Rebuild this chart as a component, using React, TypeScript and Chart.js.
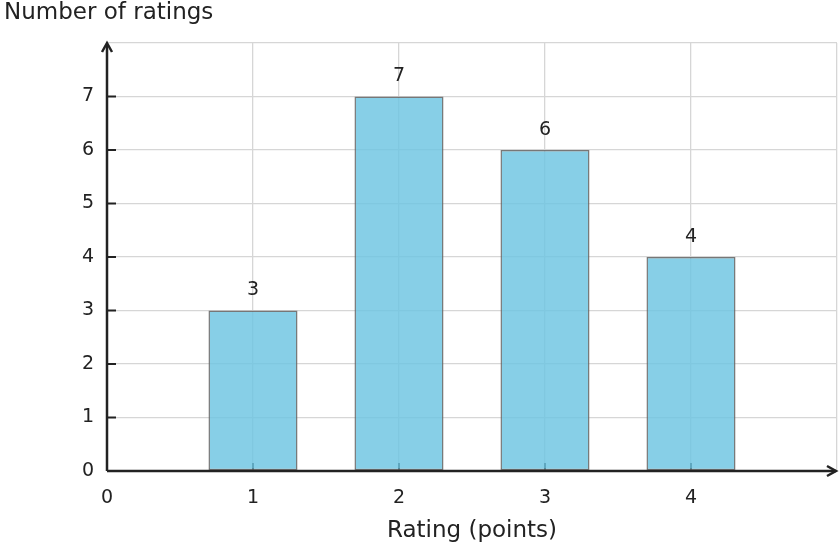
import React, { useEffect, useRef } from 'react';
import { Chart, registerables } from 'chart.js';

Chart.register(...registerables);

// rating (points) and how many ratings got that score
const ratings = [1, 2, 3, 4];
const counts = [3, 7, 6, 4];

const xMax = 5;
const yMax = 8;
const xTickLabels = ['0', '1', '2', '3', '4'];
const yTickLabels = ['0', '1', '2', '3', '4', '5', '6', '7'];

const FONT = '"DejaVu Sans", sans-serif';
const INK = '#222222';

const axesPlugin = {
  id: 'axesPlugin',
  beforeDatasetsDraw(chart: any) {
    const { ctx, chartArea, scales } = chart;
    // short x tick marks, sit under the bars
    ctx.save();
    ctx.strokeStyle = INK;
    ctx.lineWidth = 2;
    scales.x.ticks.forEach((t: any) => {
      if (t.value <= 0 || t.value >= xMax) return;
      const x = scales.x.getPixelForValue(t.value);
      ctx.beginPath();
      ctx.moveTo(x, chartArea.bottom);
      ctx.lineTo(x, chartArea.bottom - 8);
      ctx.stroke();
    });
    ctx.restore();
  },
  afterDatasetsDraw(chart: any) {
    const { ctx, chartArea, scales } = chart;
    const { left, right, top, bottom } = chartArea;
    ctx.save();

    // value labels above bars
    ctx.fillStyle = INK;
    ctx.font = `19px ${FONT}`;
    ctx.textAlign = 'center';
    ctx.textBaseline = 'middle';
    chart.getDatasetMeta(0).data.forEach((bar: any, i: number) => {
      ctx.fillText(String(counts[i]), bar.x, bar.y - 20);
    });

    // y tick marks
    ctx.strokeStyle = INK;
    ctx.lineWidth = 2;
    scales.y.ticks.forEach((t: any) => {
      if (t.value <= 0 || t.value >= yMax) return;
      const y = scales.y.getPixelForValue(t.value);
      ctx.beginPath();
      ctx.moveTo(left, y);
      ctx.lineTo(left + 9, y);
      ctx.stroke();
    });

    // axis lines with arrows
    ctx.lineWidth = 2.5;
    ctx.lineCap = 'butt';
    ctx.beginPath();
    ctx.moveTo(left, bottom);
    ctx.lineTo(left, top + 1);
    ctx.moveTo(left, bottom);
    ctx.lineTo(right - 1, bottom);
    ctx.stroke();
    ctx.lineJoin = 'miter';
    ctx.beginPath();
    ctx.moveTo(left - 5, top + 9);
    ctx.lineTo(left, top);
    ctx.lineTo(left + 5, top + 9);
    ctx.moveTo(right - 10, bottom - 5);
    ctx.lineTo(right - 1, bottom);
    ctx.lineTo(right - 10, bottom + 5);
    ctx.stroke();

    // tick labels
    ctx.font = `19px ${FONT}`;
    ctx.textAlign = 'right';
    ctx.textBaseline = 'middle';
    yTickLabels.forEach((lab, i) => {
      ctx.fillText(lab, left - 13, scales.y.getPixelForValue(i));
    });
    ctx.textAlign = 'center';
    xTickLabels.forEach((lab, i) => {
      ctx.fillText(lab, scales.x.getPixelForValue(i), bottom + 27);
    });

    // axis titles
    ctx.font = `23px ${FONT}`;
    ctx.textAlign = 'left';
    ctx.fillText('Number of ratings', 4, 13);
    ctx.textAlign = 'center';
    ctx.fillText('Rating (points)', (left + right) / 2, bottom + 60);

    ctx.restore();
  },
};

const App: React.FC = () => {
  const canvasRef = useRef<HTMLCanvasElement | null>(null);

  useEffect(() => {
    document.body.style.margin = '0';
    if (!canvasRef.current) return;

    const chart = new Chart(canvasRef.current, {
      type: 'bar',
      data: {
        datasets: [{
          data: ratings.map((r, i) => ({ x: r, y: counts[i] })),
          backgroundColor: 'rgba(108, 196, 226, 0.82)',
          borderColor: 'rgba(105, 105, 105, 0.9)',
          borderWidth: 1.5,
          borderSkipped: false,
          categoryPercentage: 1,
          barPercentage: 0.61,
        }],
      },
      options: {
        animation: false,
        responsive: false,
        devicePixelRatio: 1,
        layout: { padding: { left: 107, right: 3, top: 43, bottom: 77 } },
        plugins: {
          legend: { display: false },
          tooltip: { enabled: false },
        },
        scales: {
          x: {
            type: 'linear',
            min: 0,
            max: xMax,
            offset: false,
            ticks: { display: false, stepSize: 1 },
            grid: { color: '#d6d6d6', lineWidth: 1.3, drawTicks: false, tickLength: 0, offset: false },
            border: { display: false },
          },
          y: {
            min: 0,
            max: yMax,
            ticks: { display: false, stepSize: 1 },
            grid: { color: '#d6d6d6', lineWidth: 1.3, drawTicks: false, tickLength: 0 },
            border: { display: false },
          },
        },
      },
      plugins: [axesPlugin],
    });

    return () => chart.destroy();
  }, []);

  return (
    <div style={{ width: 840, height: 548 }}>
      <canvas ref={canvasRef} width={840} height={548} />
    </div>
  );
};

export default App;
